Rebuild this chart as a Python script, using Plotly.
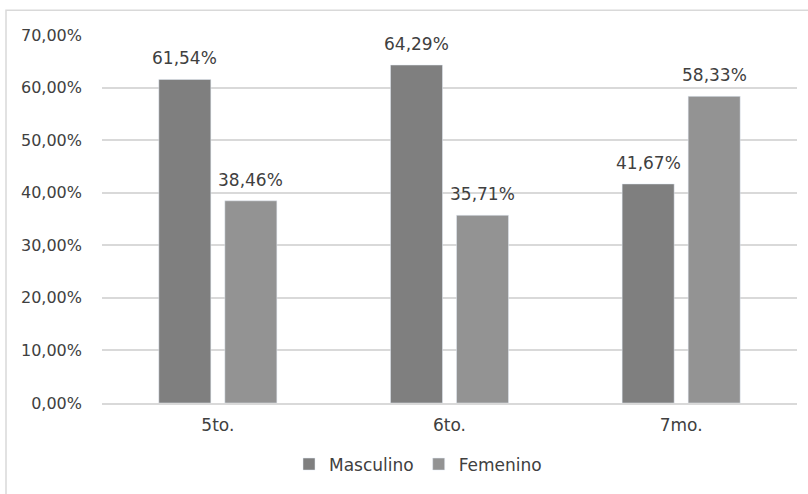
import plotly.graph_objects as go

categories = ["5to.", "6to.", "7mo."]
masculino = [0.6154, 0.6429, 0.4167]
femenino = [0.3846, 0.3571, 0.5833]
y_ticks = [0, 0.1, 0.2, 0.3, 0.4, 0.5, 0.6, 0.7]

COL_M = "#7f7f7f"
COL_F = "#939393"
TXT = "#404040"
GRID = "#d9d9d9"
FONT = "DejaVu Sans"

W, H = 808, 494
ML, MR, MT, MB = 102, 11, 35, 88
PW = W - ML - MR
PH = H - MT - MB

fig = go.Figure()
fig.add_trace(go.Bar(name="Masculino", x=categories, y=masculino, marker_color=COL_M))
fig.add_trace(go.Bar(name="Femenino", x=categories, y=femenino, marker_color=COL_F))

def fmt(v):
    return f"{v*100:.2f}%".replace(".", ",")

annotations = []
for series, shift in ((masculino, -33), (femenino, 33)):
    for c, v in zip(categories, series):
        annotations.append(dict(
            x=c, y=v, xref="x", yref="y", text=fmt(v), showarrow=False,
            xanchor="center", yanchor="bottom", xshift=shift, yshift=9,
            font=dict(family=FONT, size=17, color=TXT),
        ))

# outer chart border (partly cut off by the picture)
fig.add_shape(type="rect", xref="paper", yref="paper",
              x0=(6 - ML) / PW, x1=(W + 5 - ML) / PW,
              y0=-(H + 10 - (MT + PH)) / PH, y1=(MT + PH - 10) / PH,
              line=dict(color=GRID, width=1.5), fillcolor="rgba(0,0,0,0)", layer="below")

fig.update_layout(
    width=W, height=H,
    margin=dict(l=ML, r=MR, t=MT, b=MB),
    paper_bgcolor="white", plot_bgcolor="white",
    barmode="group", bargap=0.43, bargroupgap=0.212,
    separators=",.",
    font=dict(family=FONT, size=17, color=TXT),
    showlegend=True,
    legend=dict(orientation="h", x=(418 - ML) / PW, xanchor="center",
                y=-(468 - (MT + PH)) / PH, yanchor="middle",
                font=dict(family=FONT, size=17, color=TXT), itemwidth=30,
                traceorder="normal"),
    annotations=annotations,
    xaxis=dict(showline=True, linecolor=GRID, linewidth=1.5, showgrid=False,
               ticks="", tickfont=dict(family=FONT, size=17, color=TXT),
               ticklabelstandoff=6),
    yaxis=dict(range=[0, 0.7], tickvals=y_ticks, tickformat=".2%",
               showgrid=True, gridcolor=GRID, gridwidth=1.5, zeroline=False,
               showline=False, ticks="", ticklabelstandoff=19,
               tickfont=dict(family=FONT, size=16, color=TXT)),
)

fig.write_html("out.html", config={"displayModeBar": False},
               post_script="document.body.style.margin='0px';document.body.style.overflow='hidden';")
